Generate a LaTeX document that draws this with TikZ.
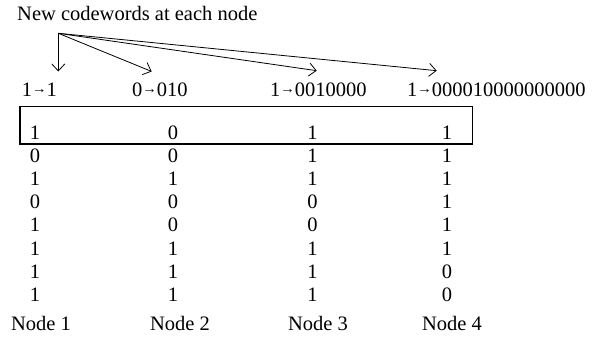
\documentclass[tikz,border=0pt]{standalone}
\usepackage{fontspec}
\setmainfont{Liberation Serif}
\usetikzlibrary{arrows.meta}
\newcommand{\arw}{{\fontsize{14.5pt}{14pt}\selectfont\raisebox{3.3pt}{→}}}
\begin{document}
\begin{tikzpicture}[x=1pt,y=-1pt,
  txt/.style={inner sep=0pt,font=\fontsize{20.5pt}{24pt}\selectfont},
  dig/.style={txt,anchor=base},
  lab/.style={txt,anchor=base west},
  conn/.style={line width=0.8pt,-{Straight Barb[length=7pt,width=13pt,line width=0.8pt]}}]
\useasboundingbox (0,0) rectangle (600,337);
% title
\node[lab] (title) at (17,20.7) {New codewords at each node};
% arrow origin and tips
\coordinate (o) at (58.3,33.3);
\coordinate (t1) at (58.3,71.5);
\coordinate (t2) at (151.7,71.5);
\coordinate (t3) at (316.7,70.7);
\coordinate (t4) at (436.7,70.7);
\draw[conn] (o) -- (t1);
\draw[conn] (o) -- (t2);
\draw[conn] (o) -- (t3);
\draw[conn] (o) -- (t4);
% codeword labels
\node[lab] (l1) at (21.7,96.5) {1\arw1};
\node[lab] (l2) at (132,96.5) {0\arw010};
\node[lab] (l3) at (270,96.5) {1\arw0010000};
\node[lab] (l4) at (407,96.5) {1\arw000010000000000};
% box around first row
\draw[line width=1.1pt] (20,106.7) rectangle (472.7,144);
% data
\foreach \r/\a/\b/\c/\d [count=\i from 0] in {1/1/0/1/1,2/0/0/1/1,3/1/1/1/1,4/0/0/0/1,5/1/0/0/1,6/1/1/1/1,7/1/1/1/0,8/1/1/1/0}{
  \node[dig] (r\r c1) at (35,139.5+23.1*\i) {\a};
  \node[dig] (r\r c2) at (173,139.5+23.1*\i) {\b};
  \node[dig] (r\r c3) at (312.5,139.5+23.1*\i) {\c};
  \node[dig] (r\r c4) at (447,139.5+23.1*\i) {\d};
}
% node names
\node[dig] (n1) at (41,330) {Node 1};
\node[dig] (n2) at (180,330) {Node 2};
\node[dig] (n3) at (318,330) {Node 3};
\node[dig] (n4) at (452,330) {Node 4};
\end{tikzpicture}
\end{document}
